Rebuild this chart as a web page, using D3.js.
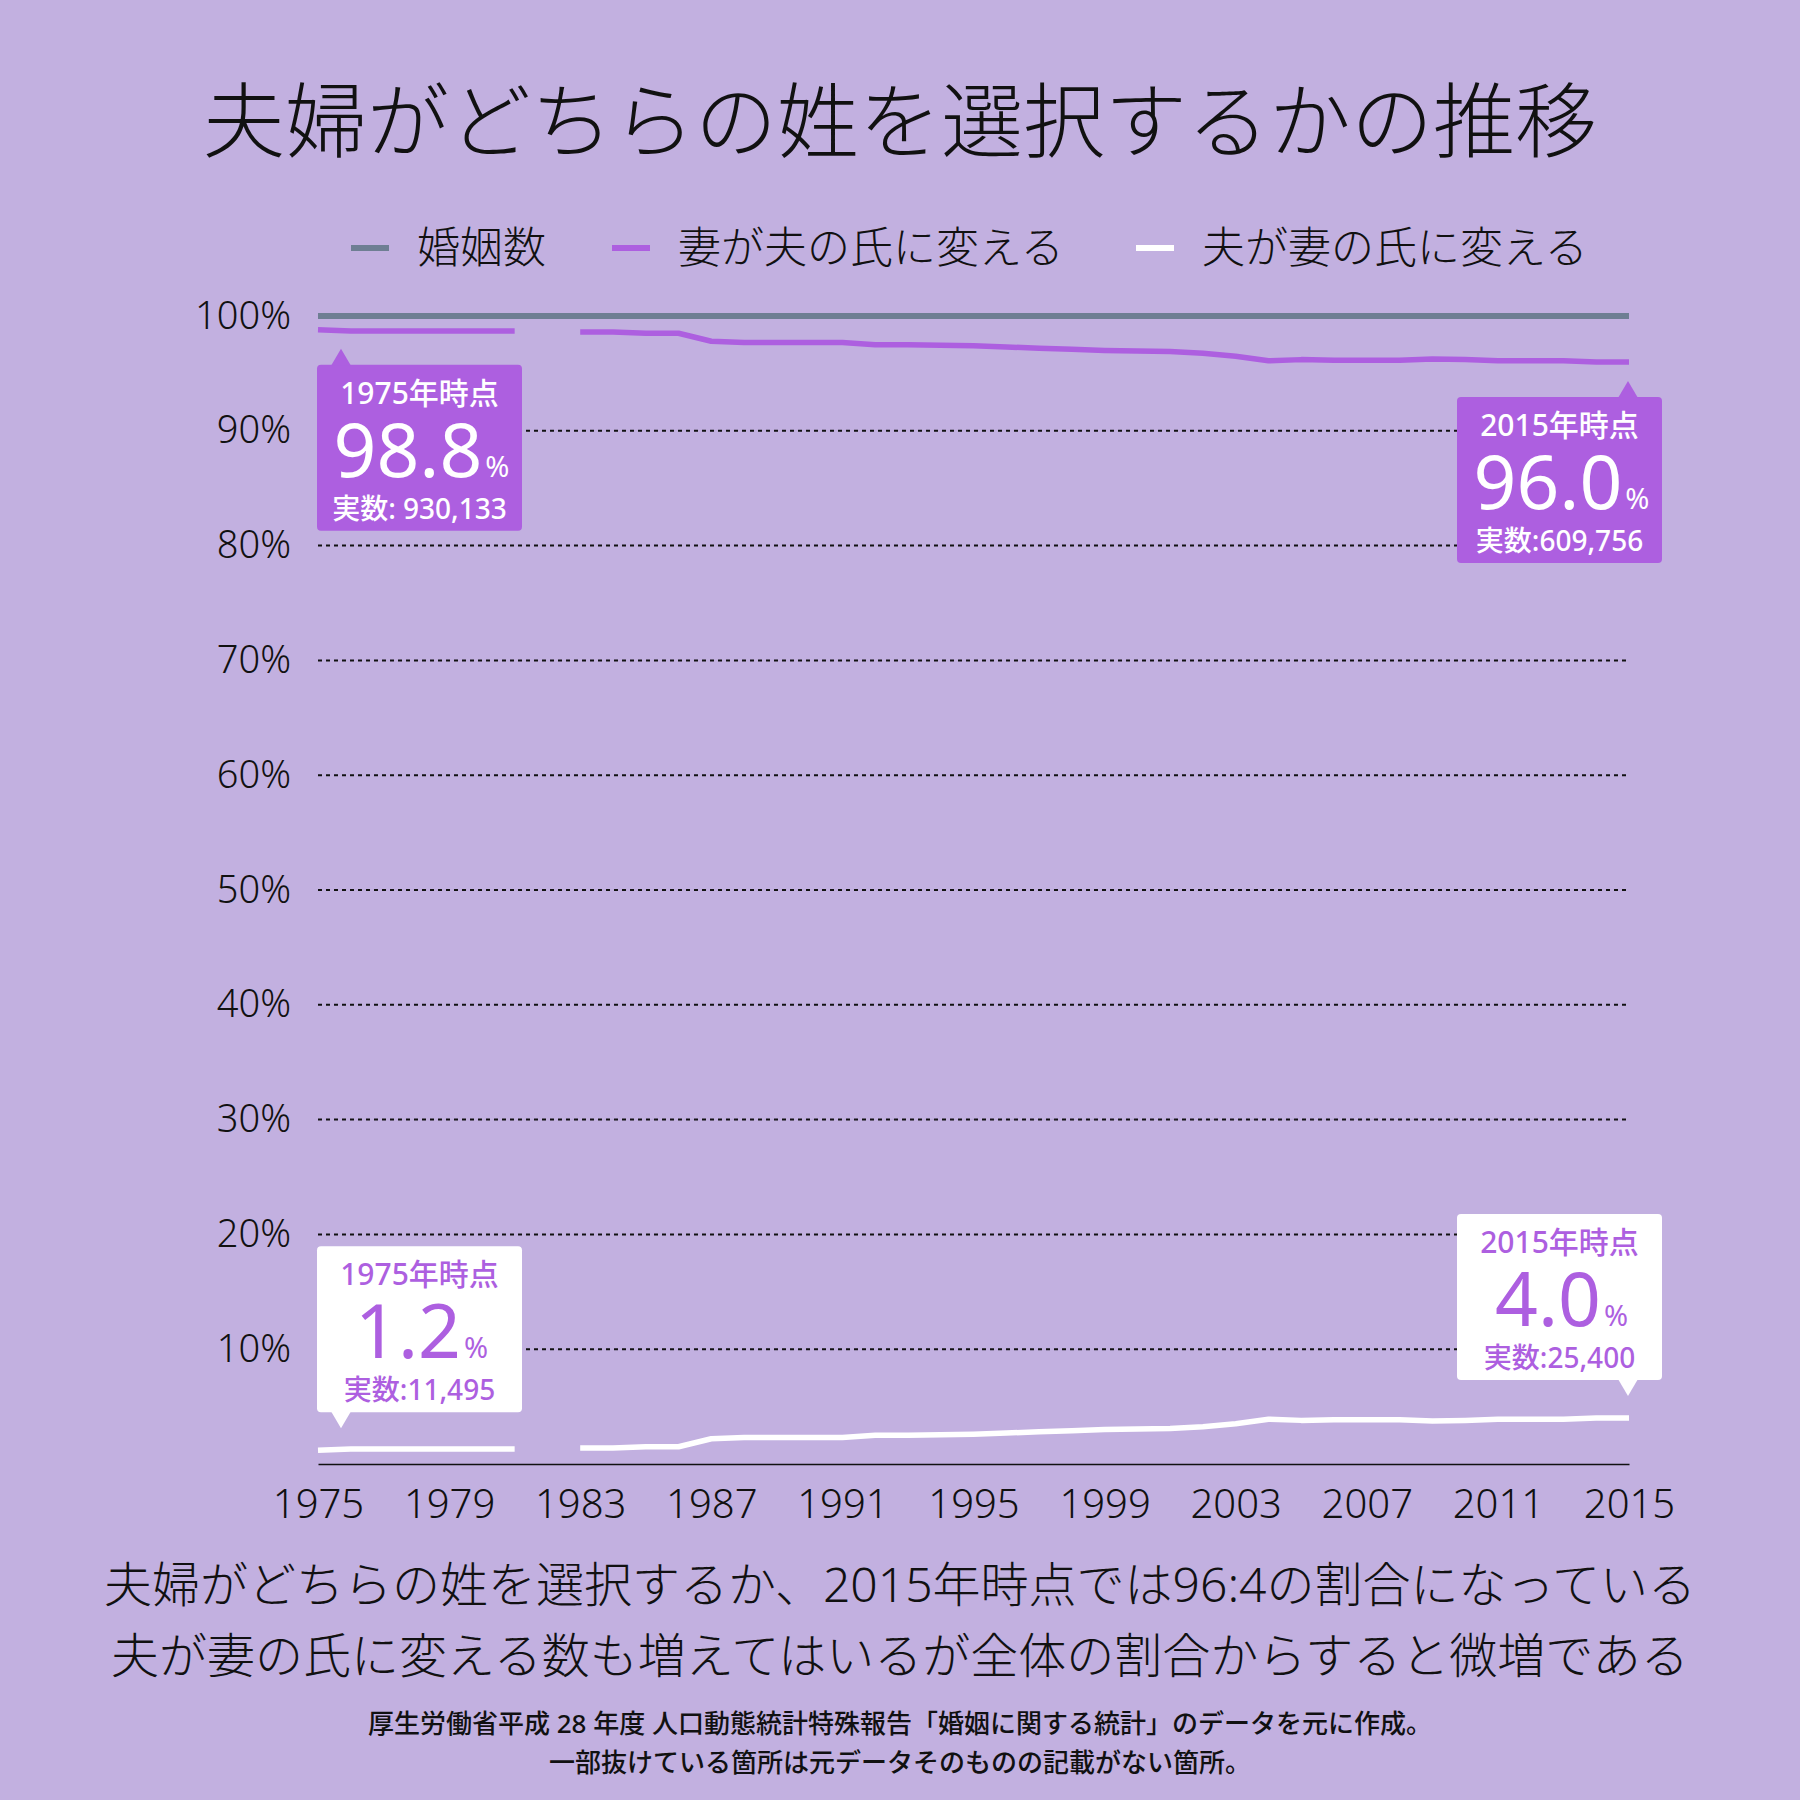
<!DOCTYPE html>
<html>
<head>
<meta charset="utf-8">
<script src="https://cdn.jsdelivr.net/npm/d3@7.9.0/dist/d3.min.js"></script>
<style>
  html, body { margin: 0; padding: 0; background: #c2b0e0; }
  svg { display: block; font-family: "Noto Sans", "Noto Sans CJK JP", sans-serif; }
</style>
</head>
<body>
<div id="chart"></div>
<script>
// ---- data (percent of marriages) ----
const years = [1975, 1976, 1977, 1978, 1979, 1980, 1981, 1982, 1983, 1984, 1985, 1986, 1987, 1988, 1989, 1990,
  1991, 1992, 1993, 1994, 1995, 1996, 1997, 1998, 1999, 2000, 2001, 2002, 2003, 2004, 2005, 2006,
  2007, 2008, 2009, 2010, 2011, 2012, 2013, 2014, 2015];

// 婚姻数 = 100%
const marriages = [100, 100, 100, 100, 100, 100, 100, 100, 100, 100, 100, 100, 100, 100, 100, 100,
  100, 100, 100, 100, 100, 100, 100, 100, 100, 100, 100, 100, 100, 100, 100, 100,
  100, 100, 100, 100, 100, 100, 100, 100, 100];

// 妻が夫の氏に変える (1982 missing in source)
const wifeTakes = [98.8, 98.7, 98.7, 98.7, 98.7, 98.7, 98.7, null, 98.6, 98.6, 98.5, 98.5, 97.8, 97.7, 97.7, 97.7,
  97.7, 97.5, 97.5, 97.45, 97.4, 97.3, 97.2, 97.1, 97.0, 96.95, 96.9, 96.75, 96.5, 96.1, 96.2, 96.15,
  96.15, 96.15, 96.25, 96.2, 96.1, 96.1, 96.1, 96.0, 96.0];

// 夫が妻の氏に変える
const husbandTakes = [1.2, 1.3, 1.3, 1.3, 1.3, 1.3, 1.3, null, 1.4, 1.4, 1.5, 1.5, 2.2, 2.3, 2.3, 2.3,
  2.3, 2.5, 2.5, 2.55, 2.6, 2.7, 2.8, 2.9, 3.0, 3.05, 3.1, 3.25, 3.5, 3.9, 3.8, 3.85,
  3.85, 3.85, 3.75, 3.8, 3.9, 3.9, 3.9, 4.0, 4.0];

const xTicks = [1975, 1979, 1983, 1987, 1991, 1995, 1999, 2003, 2007, 2011, 2015];
const yTicks = [10, 20, 30, 40, 50, 60, 70, 80, 90, 100];

const seriesNames = ['婚姻数', '妻が夫の氏に変える', '夫が妻の氏に変える'];
const seriesColors = ['#6e7e93', '#ad5fe0', '#ffffff'];

// callouts: series index, year, texts
const callouts = [
  { series: 1, year: 1975, head: '1975年時点', value: '98.8', count: '実数: 930,133' },
  { series: 1, year: 2015, head: '2015年時点', value: '96.0', count: '実数:609,756' },
  { series: 2, year: 1975, head: '1975年時点', value: '1.2', count: '実数:11,495' },
  { series: 2, year: 2015, head: '2015年時点', value: '4.0', count: '実数:25,400' },
];

const title = '夫婦がどちらの姓を選択するかの推移';
const notes = [
  '夫婦がどちらの姓を選択するか、2015年時点では96:4の割合になっている',
  '夫が妻の氏に変える数も増えてはいるが全体の割合からすると微増である',
];
const sources = [
  '厚生労働省平成 28 年度 人口動態統計特殊報告「婚姻に関する統計」のデータを元に作成。',
  '一部抜けている箇所は元データそのものの記載がない箇所。',
];

// ---- layout ----
const W = 1800, H = 1800;
const plot = { left: 318, right: 1629, top: 316, bottom: 1464 };
const BG = '#c2b0e0', PURPLE = '#ad5fe0';

const svg = d3.select('#chart').append('svg')
  .attr('width', W).attr('height', H)
  .attr('viewBox', `0 0 ${W} ${H}`);

svg.append('rect').attr('width', W).attr('height', H).attr('fill', BG);

const x = d3.scaleLinear().domain([1975, 2015]).range([plot.left, plot.right]);
const y = d3.scaleLinear().domain([0, 100]).range([plot.bottom, plot.top]);

// title
svg.append('text')
  .attr('x', W / 2).attr('y', 151)
  .attr('text-anchor', 'middle')
  .attr('font-size', 82).attr('font-weight', 300)
  .attr('fill', '#111')
  .text(title);

// legend
const legendX = [351, 612, 1136];
const legend = svg.append('g').attr('class', 'legend');
seriesNames.forEach((name, i) => {
  legend.append('line')
    .attr('x1', legendX[i]).attr('x2', legendX[i] + 38)
    .attr('y1', 248).attr('y2', 248)
    .attr('stroke', seriesColors[i]).attr('stroke-width', 6);
  legend.append('text')
    .attr('x', legendX[i] + 66).attr('y', 263)
    .attr('font-size', 43).attr('font-weight', 300)
    .attr('fill', '#111')
    .text(name);
});

// gridlines (dotted)
svg.append('g').attr('class', 'grid')
  .selectAll('line')
  .data(yTicks.filter(t => t < 100))
  .join('line')
  .attr('x1', plot.left).attr('x2', plot.right)
  .attr('y1', d => y(d)).attr('y2', d => y(d))
  .attr('stroke', '#111').attr('stroke-width', 2)
  .attr('stroke-dasharray', '4,4');

// y axis labels
const yAxis = d3.axisLeft(y).tickValues(yTicks).tickSize(0).tickPadding(0)
  .tickFormat(d => d + '%');
const yg = svg.append('g').attr('transform', `translate(${plot.left - 27},0)`).call(yAxis);
yg.select('.domain').remove();
yg.selectAll('text')
  .attr('font-size', 38).attr('font-weight', 300)
  .attr('fill', '#111')
  .attr('font-family', '"Noto Sans", sans-serif');

// x axis
const xAxis = d3.axisBottom(x).tickValues(xTicks).tickSize(0).tickPadding(26)
  .tickFormat(d3.format('d'));
const xg = svg.append('g').attr('transform', `translate(0,${plot.bottom})`).call(xAxis);
xg.select('.domain').attr('stroke', '#111').attr('stroke-width', 1.5);
xg.selectAll('text')
  .attr('font-size', 40).attr('font-weight', 300)
  .attr('fill', '#111')
  .attr('font-family', '"Noto Sans", sans-serif');

// lines
const allSeries = [marriages, wifeTakes, husbandTakes];
const line = d3.line()
  .defined(d => d.v != null)
  .x(d => x(d.year))
  .y(d => y(d.v));

svg.append('g').attr('class', 'lines')
  .selectAll('path')
  .data(allSeries.map((vals, i) => ({ i, pts: years.map((yr, k) => ({ year: yr, v: vals[k] })) })))
  .join('path')
  .attr('d', d => line(d.pts))
  .attr('fill', 'none')
  .attr('stroke', d => seriesColors[d.i])
  .attr('stroke-width', d => d.i === 0 ? 6 : 5.5)
  .attr('stroke-linejoin', 'round');

// callouts
const boxW = 205, boxH = 166;
callouts.forEach(c => {
  const vals = allSeries[c.series];
  const v = vals[years.indexOf(c.year)];
  const px = x(c.year), py = y(v);
  const above = c.series === 2;          // white boxes sit above the line
  const filled = c.series === 1;
  const fill = filled ? PURPLE : '#ffffff';
  const txt = filled ? '#ffffff' : PURPLE;

  const left = c.year === 1975 ? px - 1 : px + 33 - boxW;
  const tipX = c.year === 1975 ? px + 23 : px - 1;
  let top, tipY, baseY;
  if (above) {
    tipY = py - 22;
    baseY = tipY - 16;
    top = baseY - boxH;
  } else {
    tipY = py + 19;
    baseY = tipY + 16;
    top = baseY;
  }

  const g = svg.append('g').attr('class', 'callout').attr('font-weight', 500);
  g.append('rect')
    .attr('x', left).attr('y', top)
    .attr('width', boxW).attr('height', boxH)
    .attr('rx', 4).attr('fill', fill);
  g.append('path')
    .attr('d', `M${tipX - 10},${baseY + (above ? -1 : 1)} L${tipX},${tipY} L${tipX + 10},${baseY + (above ? -1 : 1)} Z`)
    .attr('fill', fill);

  const cx = left + boxW / 2;
  g.append('text')
    .attr('x', cx).attr('y', top + 39)
    .attr('text-anchor', 'middle')
    .attr('font-size', 30).attr('fill', txt)
    .text(c.head);
  const big = g.append('text')
    .attr('x', cx + 2).attr('y', top + 112)
    .attr('text-anchor', 'middle')
    .attr('font-weight', 400)
    .attr('fill', txt);
  big.append('tspan').attr('font-size', 75).text(c.value);
  big.append('tspan').attr('font-size', 29).attr('dx', 3).text('%');
  g.append('text')
    .attr('x', cx).attr('y', top + 154)
    .attr('text-anchor', 'middle')
    .attr('font-size', 28).attr('fill', txt)
    .text(c.count);
});

// notes under chart
notes.forEach((t, i) => {
  svg.append('text')
    .attr('x', W / 2).attr('y', 1602 + i * 71)
    .attr('text-anchor', 'middle')
    .attr('font-size', 48).attr('font-weight', 300)
    .attr('fill', '#111')
    .text(t);
});

sources.forEach((t, i) => {
  svg.append('text')
    .attr('x', W / 2).attr('y', 1733 + i * 39)
    .attr('text-anchor', 'middle')
    .attr('font-size', 26).attr('font-weight', 500)
    .attr('fill', '#111')
    .text(t);
});
</script>
</body>
</html>
